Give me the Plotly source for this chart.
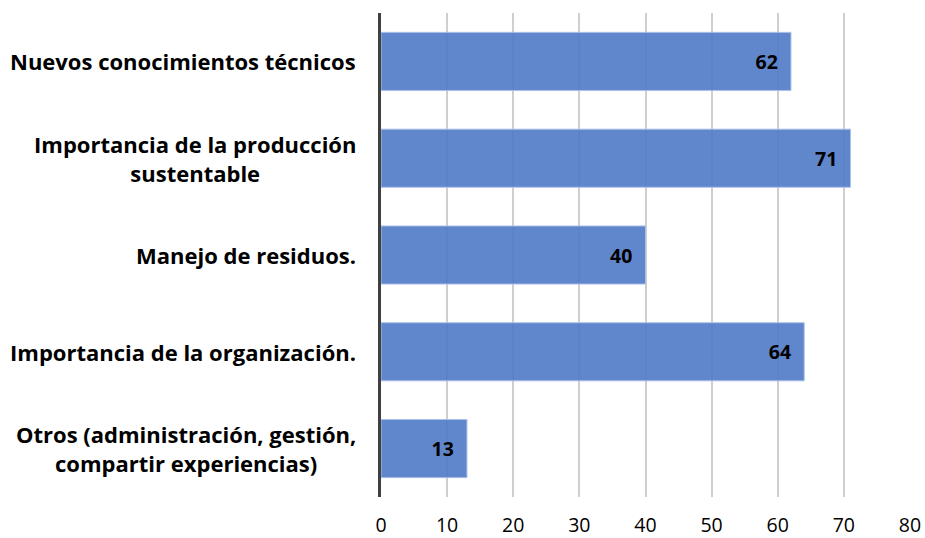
import plotly.graph_objects as go

categorias = [
    "Nuevos conocimientos técnicos",
    "Importancia de la producción<br>sustentable",
    "Manejo de residuos.",
    "Importancia de la organización.",
    "Otros (administración, gestión,<br>compartir experiencias)",
]
valores = [62, 71, 40, 64, 13]
x_ticks = [0, 10, 20, 30, 40, 50, 60, 70, 80]

fig = go.Figure(go.Bar(
    x=valores,
    y=categorias,
    orientation="h",
    width=0.6,
    marker=dict(color="rgba(82,124,200,0.92)", line=dict(color="#a9c0e8", width=1)),
    texttemplate="%{x}\u00a0\u00a0",
    textposition="inside",
    insidetextanchor="end",
    textfont=dict(family="Open Sans", size=19.5, color="black", weight="bold"),
))

# category labels as annotations so multi-line ones are centred like the original
for cat in categorias:
    fig.add_annotation(
        x=0, xref="paper", y=cat, yref="y", text=cat, showarrow=False,
        xanchor="right", yanchor="middle", align="center", xshift=-23,
        font=dict(family="Open Sans", size=22, color="black", weight="bold"),
    )

fig.update_layout(
    width=925, height=538,
    margin=dict(l=381, r=15, t=13, b=41),
    plot_bgcolor="white", paper_bgcolor="white",
    showlegend=False,
    font=dict(family="Open Sans", color="black"),
)
fig.update_xaxes(
    range=[0, 80], tickvals=x_ticks, showgrid=True, gridcolor="#cfcfcf", gridwidth=1.5,
    zeroline=False, showline=False, tickfont=dict(size=19.5), ticklabelstandoff=14,
    automargin=False,
)
fig.update_yaxes(
    autorange="reversed", showline=True, linecolor="#404040", linewidth=3,
    showticklabels=False, showgrid=False, automargin=False,
)

# drop the default 8px body margin so the figure fills the window
fig.write_html("out.html", config={"displayModeBar": False},
               post_script="document.body.style.margin='0';")
